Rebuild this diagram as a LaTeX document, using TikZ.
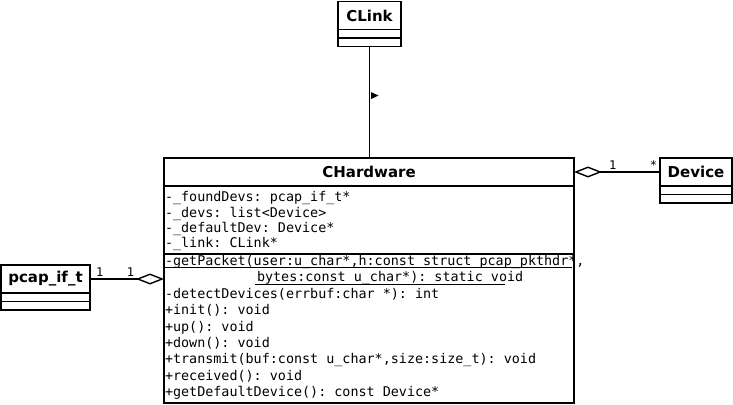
\documentclass[tikz,border=0pt]{standalone}
\usepackage{fontspec}
\setmainfont{DejaVu Sans}
\setmonofont{DejaVu Sans Mono}
\usepackage{tikz}
\usetikzlibrary{positioning,arrows.meta}

\begin{document}
\begin{tikzpicture}[x=1pt, y=-1pt,
    every node/.style={inner sep=0pt, outer sep=0pt},
    classname/.style={draw, line width=1.7pt, minimum height=28pt,
      font=\bfseries\fontsize{15}{17}\selectfont},
    emptycomp/.style={draw, line width=1.7pt, minimum height=8.5pt},
    compart/.style={draw, line width=1.7pt},
    members/.style={anchor=north west, align=left,
      font=\ttfamily\fontsize{13.4}{16.4}\selectfont},
    mult/.style={font=\ttfamily\fontsize{12}{12}\selectfont},
    assoc/.style={line width=1.7pt},
    aggr/.style={line width=1.7pt,
      -{Diamond[open, length=28pt, width=11pt, line width=1.4pt]}}]
  \useasboundingbox (0,0) rectangle (733,404);

  % CLink
  \node[classname, minimum width=63pt] (clink) at (369.5,15.5) {CLink};
  \node[emptycomp, minimum width=63pt, below=0pt of clink] (clinkattr) {};
  \node[emptycomp, minimum width=63pt, below=0pt of clinkattr] (clinkops) {};

  % CHardware
  \node[classname, minimum width=410pt] (chw) at (369,172) {CHardware};
  \node[compart, minimum width=410pt, minimum height=68pt, below=0pt of chw] (chwattr) {};
  \node[compart, minimum width=410pt, minimum height=149pt, below=0pt of chwattr] (chwops) {};

  \node[members, font=\ttfamily\fontsize{13.4}{15.4}\selectfont]
    (attrtext) at ([shift={(1,5)}]chwattr.north west)
    {\strut-\_foundDevs: pcap\_if\_t*\\
     -\_devs: list<Device>\\
     -\_defaultDev: Device*\\
     -\_link: CLink*};

  \node[members] (opstext) at ([shift={(1,0)}]chwops.north west)
    {\strut-getPacket(user:u\_char*,h:const struct pcap\_pkthdr*,\\
     \hspace*{92pt}bytes:const u\_char*): static void\\
     -detectDevices(errbuf:char *): int\\
     +init(): void\\
     +up(): void\\
     +down(): void\\
     +transmit(buf:const u\_char*,size:size\_t): void\\
     +received(): void\\
     +getDefaultDevice(): const Device*};

  % static member is underlined
  \draw[line width=1pt] ([shift={(1,13)}]chwops.north west) -- ++(407,0);
  \draw[line width=1pt] ([shift={(91,30)}]chwops.north west) -- ++(250,0);

  % Device
  \node[classname, minimum width=72pt] (device) at (696,172) {Device};
  \node[emptycomp, minimum width=72pt, below=0pt of device] (deviceattr) {};
  \node[emptycomp, minimum width=72pt, below=0pt of deviceattr] (deviceops) {};

  % pcap_if_t
  \node[classname, minimum width=89pt] (pcap) at (45.5,279) {pcap\_if\_t};
  \node[emptycomp, minimum width=89pt, below=0pt of pcap] (pcapattr) {};
  \node[emptycomp, minimum width=89pt, below=0pt of pcapattr] (pcapops) {};

  % association CHardware -> CLink
  \draw[assoc] (clinkops.south) -- coordinate[pos=0.44] (linkmid) (clinkops.south |- chw.north);
  \fill ([shift={(1.5,-3.5)}]linkmid) -- ++(7.5,3.5) -- ++(-7.5,3.5) -- cycle;

  % aggregations
  \draw[aggr] (device.west) -- (device.west -| chw.east)
    node[mult, at start, anchor=base east, xshift=-3pt, yshift=3pt] {*}
    node[mult, at end, anchor=base west, xshift=35pt, yshift=3pt] {1};
  \draw[aggr] (pcap.east) -- (pcap.east -| chw.west)
    node[mult, at start, anchor=base west, xshift=6pt, yshift=3pt] {1}
    node[mult, at end, anchor=base east, xshift=-30pt, yshift=3pt] {1};

\end{tikzpicture}
\end{document}
